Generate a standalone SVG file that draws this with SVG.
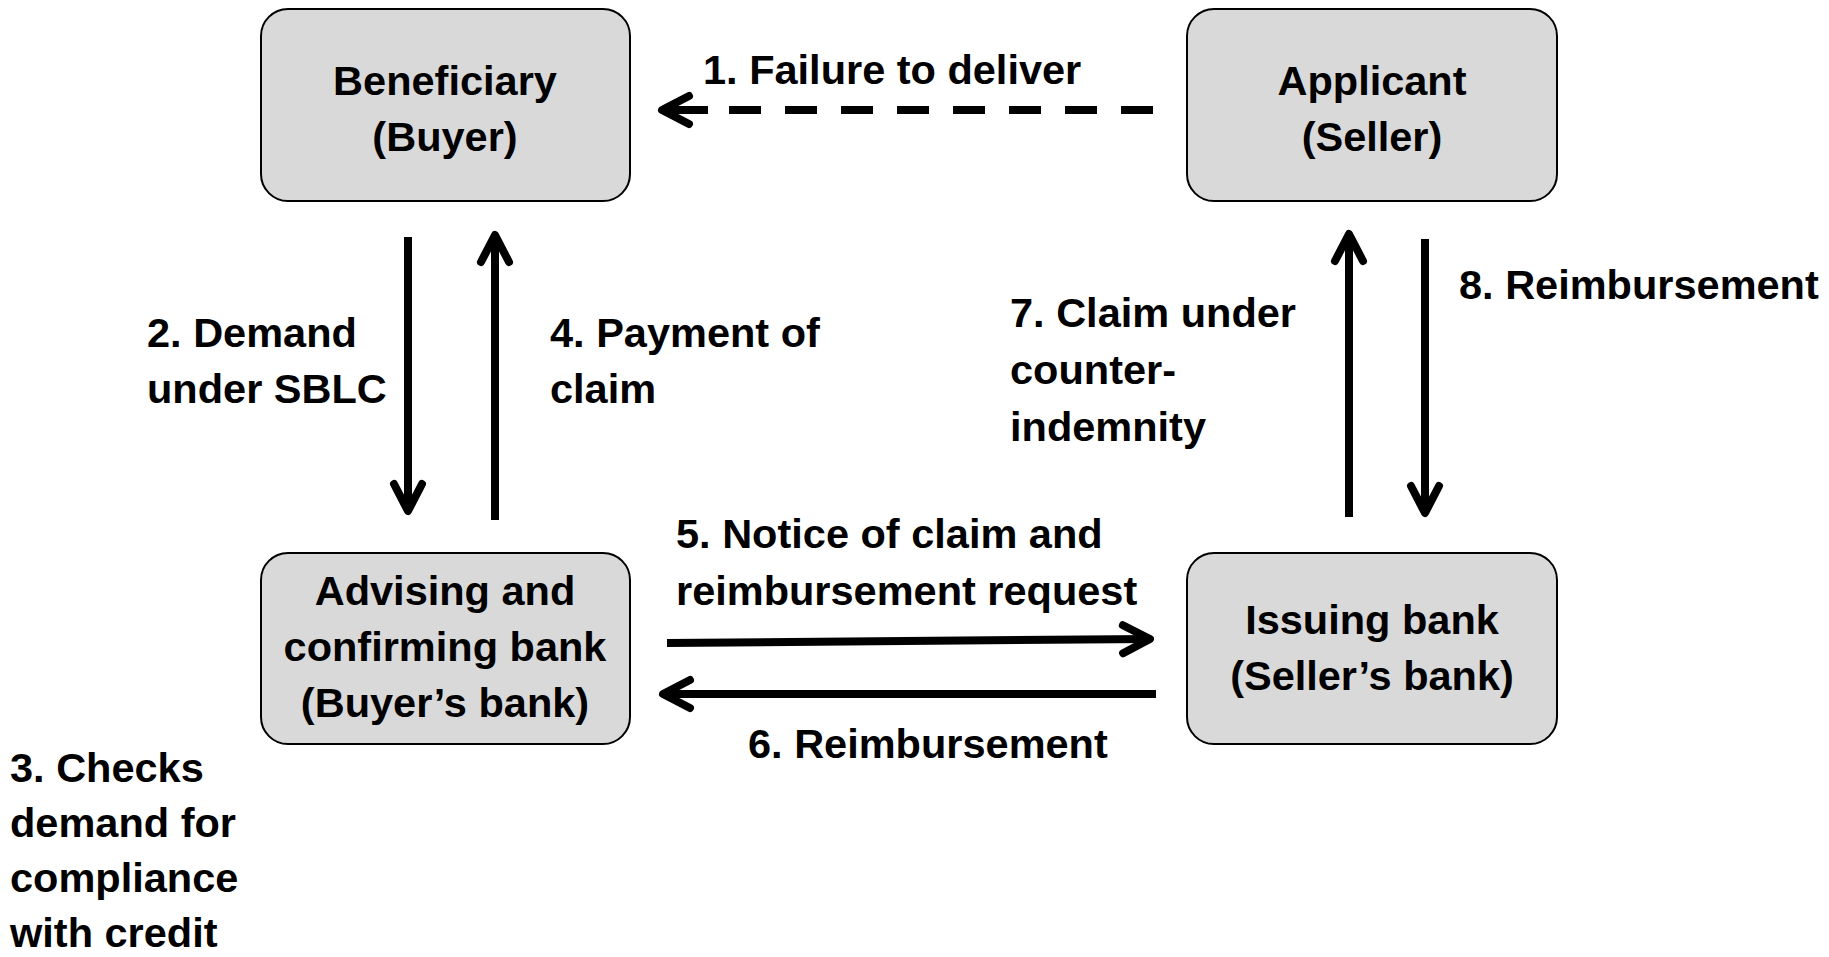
<svg xmlns="http://www.w3.org/2000/svg" width="1829" height="957" viewBox="0 0 1829 957">
  <defs>
    <style>
      .node rect { fill: #d9d9d9; stroke: #000; stroke-width: 2; }
      text { font-family: "Liberation Sans", Arial, sans-serif; font-weight: bold; font-size: 41.5px; fill: #000; }
      .c { text-anchor: middle; }
      .edge { stroke: #000; stroke-width: 8; fill: none; }
      .dash { stroke-dasharray: 32 24; }
    </style>
    <!-- open chevron arrowhead -->
    <marker id="head" markerUnits="userSpaceOnUse" orient="auto" overflow="visible"
            markerWidth="40" markerHeight="40" refX="0" refY="0">
      <path d="M-27,-14 L0,0 L-27,14" fill="none" stroke="#000" stroke-width="8"
            stroke-linecap="round" stroke-linejoin="round"/>
    </marker>
  </defs>

  <rect width="1829" height="957" fill="#fff"/>

  <!-- parties -->
  <g id="beneficiary" class="node">
    <rect x="261" y="9" width="369" height="192" rx="27"/>
    <text class="c" x="445" y="95">Beneficiary</text>
    <text class="c" x="445" y="151">(Buyer)</text>
  </g>
  <g id="applicant" class="node">
    <rect x="1187" y="9" width="370" height="192" rx="27"/>
    <text class="c" x="1372" y="95">Applicant</text>
    <text class="c" x="1372" y="151">(Seller)</text>
  </g>
  <g id="advising-bank" class="node">
    <rect x="261" y="553" width="369" height="191" rx="27"/>
    <text class="c" x="445" y="605">Advising and</text>
    <text class="c" x="445" y="661">confirming bank</text>
    <text class="c" x="445" y="717">(Buyer’s bank)</text>
  </g>
  <g id="issuing-bank" class="node">
    <rect x="1187" y="553" width="370" height="191" rx="27"/>
    <text class="c" x="1372" y="634">Issuing bank</text>
    <text class="c" x="1372" y="690">(Seller’s bank)</text>
  </g>

  <!-- flows -->
  <g id="connectors">
    <line class="edge dash" x1="1153" y1="110" x2="708" y2="110"/>
    <line class="edge" x1="708" y1="110" x2="662" y2="110" marker-end="url(#head)"/>
    <line class="edge" x1="408" y1="237" x2="408" y2="511" marker-end="url(#head)"/>
    <line class="edge" x1="495" y1="520" x2="495" y2="235" marker-end="url(#head)"/>
    <line class="edge" x1="667" y1="643" x2="1150" y2="639" marker-end="url(#head)"/>
    <line class="edge" x1="1156" y1="694" x2="663" y2="694" marker-end="url(#head)"/>
    <line class="edge" x1="1349" y1="517" x2="1349" y2="234" marker-end="url(#head)"/>
    <line class="edge" x1="1425" y1="239" x2="1425" y2="513" marker-end="url(#head)"/>
  </g>

  <!-- step labels -->
  <g id="labels">
    <text x="703" y="84">1. Failure to deliver</text>
    <text x="147" y="347">2. Demand</text>
    <text x="147" y="403">under SBLC</text>
    <text x="10" y="782">3. Checks</text>
    <text x="10" y="837">demand for</text>
    <text x="10" y="892">compliance</text>
    <text x="10" y="947">with credit</text>
    <text x="550" y="347">4. Payment of</text>
    <text x="550" y="403">claim</text>
    <text x="676" y="548">5. Notice of claim and</text>
    <text x="676" y="605">reimbursement request</text>
    <text x="748" y="758">6. Reimbursement</text>
    <text x="1010" y="327">7. Claim under</text>
    <text x="1010" y="384">counter-</text>
    <text x="1010" y="441">indemnity</text>
    <text x="1459" y="299">8. Reimbursement</text>
  </g>
</svg>
